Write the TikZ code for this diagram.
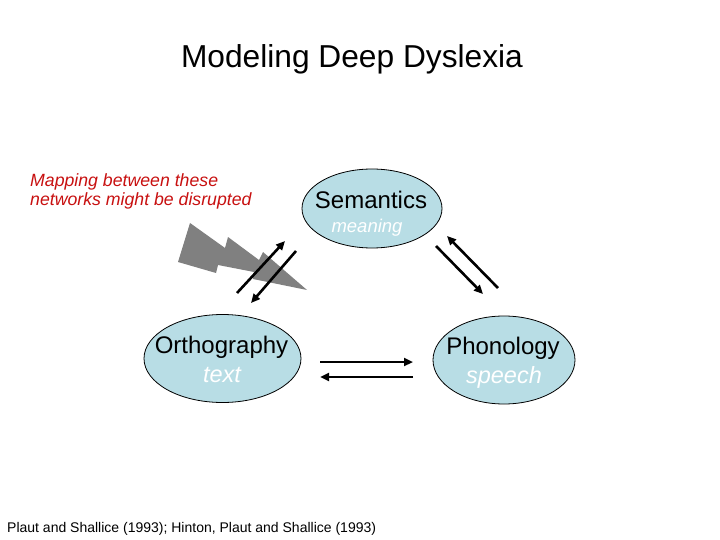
\documentclass[tikz,border=0pt]{standalone}
\usepackage{fontspec}
\setmainfont{Liberation Sans}
\usetikzlibrary{shapes.geometric,arrows.meta}
\definecolor{ellfill}{RGB}{184,221,229}
\definecolor{mapred}{RGB}{200,16,16}
\definecolor{boltgray}{RGB}{128,128,128}
\tikzset{
  netnode/.style={ellipse,draw=black,line width=0.8pt,fill=ellfill,inner sep=0pt},
  mainlabel/.style={anchor=base,inner sep=0pt,font=\fontsize{24}{28}\selectfont},
  sublabel/.style={anchor=base,inner sep=0pt,text=white,font=\fontsize{23.5}{28}\selectfont\itshape},
  smallsub/.style={anchor=base,inner sep=0pt,text=white,font=\fontsize{18.5}{22}\selectfont\itshape},
  conn/.style={line width=2.6pt,-{Triangle[length=9pt,width=8pt]}},
}
\begin{document}
\begin{tikzpicture}[x=1pt,y=-1pt]
\useasboundingbox (0,0) rectangle (720,540);
\fill[white] (0,0) rectangle (720,540);
% title
\node[anchor=base,inner sep=0pt,font=\fontsize{31.7}{38}\selectfont] (title) at (352,68) {Modeling Deep Dyslexia};
% red note
\node[anchor=base west,inner sep=0pt,text=mapred,font=\fontsize{17.7}{21}\selectfont\itshape] (note1) at (30,187) {Mapping between these};
\node[anchor=base west,inner sep=0pt,text=mapred,font=\fontsize{17.7}{21}\selectfont\itshape] (note2) at (30,206) {networks might be disrupted};
% ellipses
\node[netnode,minimum width=140pt,minimum height=79pt] (sem) at (372,208.5) {};
\node[netnode,minimum width=157pt,minimum height=88pt] (orth) at (222.5,358.5) {};
\node[netnode,minimum width=142pt,minimum height=88pt] (phon) at (504,360) {};
\node[mainlabel] (semt) at (371,209) {Semantics};
\node[smallsub] (sems) at (367,233) {meaning};
\node[mainlabel] (ortht) at (221.5,353) {Orthography};
\node[sublabel] (orths) at (222,382) {text};
\node[mainlabel] (phont) at (503,354) {Phonology};
\node[sublabel] (phons) at (504,383) {speech};
% lightning bolt
\fill[boltgray] (190,223) -- (225,248) -- (228,237) -- (259,260) -- (263,252) -- (307,290)
  -- (253,279) -- (254,272) -- (218,265) -- (216,273) -- (178,262) -- cycle;
% arrow end points
\coordinate (a1s) at (237,293); \coordinate (a1e) at (285,241);
\coordinate (a2s) at (296,251); \coordinate (a2e) at (251,303);
\coordinate (a3s) at (498,288); \coordinate (a3e) at (447,236);
\coordinate (a4s) at (436,246); \coordinate (a4e) at (483,294);
\coordinate (a5s) at (320,362); \coordinate (a5e) at (413,362);
\coordinate (a6s) at (413,377); \coordinate (a6e) at (320,377);
\draw[conn] (a1s) -- (a1e);
\draw[conn] (a2s) -- (a2e);
\draw[conn] (a3s) -- (a3e);
\draw[conn] (a4s) -- (a4e);
\draw[conn] (a5s) -- (a5e);
\draw[conn] (a6s) -- (a6e);
% citation
\node[anchor=base west,inner sep=0pt,font=\fontsize{14}{17}\selectfont] (cite) at (7,532) {Plaut and Shallice (1993); Hinton, Plaut and Shallice (1993)};
\end{tikzpicture}
\end{document}
